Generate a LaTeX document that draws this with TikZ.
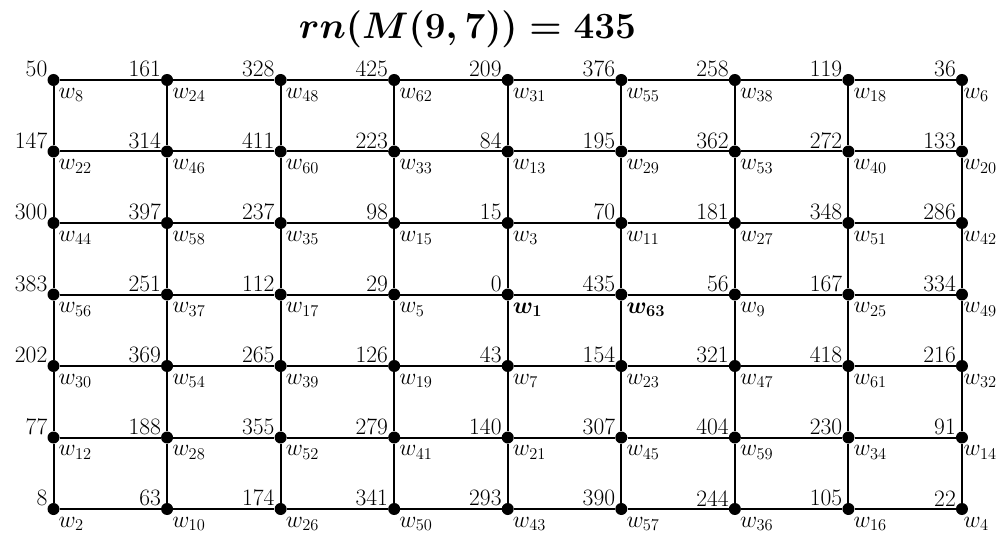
\RequirePackage{fix-cm}
\documentclass[tikz,border=0pt]{standalone}
\newcommand\titlefont{\fontsize{37}{42}\selectfont\boldmath}
\newcommand\labfont{\fontsize{23.5}{26}\selectfont}
\newcommand\labfontb{\fontsize{23.5}{26}\selectfont\boldmath}
\newcommand\gridvtx[4]{%
  \pgfmathsetmacro\xx{53.5+113.56*#1}%
  \pgfmathsetmacro\yy{80+71.5*#2}%
  \tikzset{wcur/.style={wlab}}%
  \ifnum#4=1 \tikzset{wcur/.style={wlab,font=\labfontb}}\fi
  \ifnum#4=63 \tikzset{wcur/.style={wlab,font=\labfontb}}\fi
  \ifnum#1=8 \def\wxs{1.5pt}\else\def\wxs{5pt}\fi
  \node[dot] (v-#1-#2) at (\xx,\yy) {};
  \node[numlab] (n-#1-#2) at ([xshift=-6pt,yshift=2.5pt]v-#1-#2.center) {#3};
  \node[wcur] (w-#1-#2) at ([xshift=\wxs,yshift=-8pt]v-#1-#2.center) {$w_{#4}$};
}
\begin{document}
\begin{tikzpicture}[x=1pt,y=-1pt,
  dot/.style={circle,fill=black,inner sep=0pt,minimum size=12pt},
  gedge/.style={line width=2pt},
  titlelab/.style={anchor=base,inner sep=0pt,font=\titlefont},
  numlab/.style={anchor=south east,inner sep=0pt,font=\labfont},
  wlab/.style={anchor=north west,inner sep=0pt,font=\labfont}]
\path[use as bounding box] (0,0) rectangle (1007,540);
\node[titlelab] (title) at (467.5,39) {$rn(M(9,7))=435$};
\foreach \n/\w [count=\i from 0] in {50/8,161/24,328/48,425/62,209/31,376/55,258/38,119/18,36/6} {\gridvtx{\i}{0}{\n}{\w}}
\foreach \n/\w [count=\i from 0] in {147/22,314/46,411/60,223/33,84/13,195/29,362/53,272/40,133/20} {\gridvtx{\i}{1}{\n}{\w}}
\foreach \n/\w [count=\i from 0] in {300/44,397/58,237/35,98/15,15/3,70/11,181/27,348/51,286/42} {\gridvtx{\i}{2}{\n}{\w}}
\foreach \n/\w [count=\i from 0] in {383/56,251/37,112/17,29/5,0/1,435/63,56/9,167/25,334/49} {\gridvtx{\i}{3}{\n}{\w}}
\foreach \n/\w [count=\i from 0] in {202/30,369/54,265/39,126/19,43/7,154/23,321/47,418/61,216/32} {\gridvtx{\i}{4}{\n}{\w}}
\foreach \n/\w [count=\i from 0] in {77/12,188/28,355/52,279/41,140/21,307/45,404/59,230/34,91/14} {\gridvtx{\i}{5}{\n}{\w}}
\foreach \n/\w [count=\i from 0] in {8/2,63/10,174/26,341/50,293/43,390/57,244/36,105/16,22/4} {\gridvtx{\i}{6}{\n}{\w}}
\foreach \i in {0,...,7} {
  \foreach \j in {0,...,6} {
    \pgfmathtruncatemacro\ni{\i+1}
    \draw[gedge] (v-\i-\j) -- (v-\ni-\j);
  }
}
\foreach \i in {0,...,8} {
  \foreach \j in {0,...,5} {
    \pgfmathtruncatemacro\nj{\j+1}
    \draw[gedge] (v-\i-\j) -- (v-\i-\nj);
  }
}
\end{tikzpicture}
\end{document}
